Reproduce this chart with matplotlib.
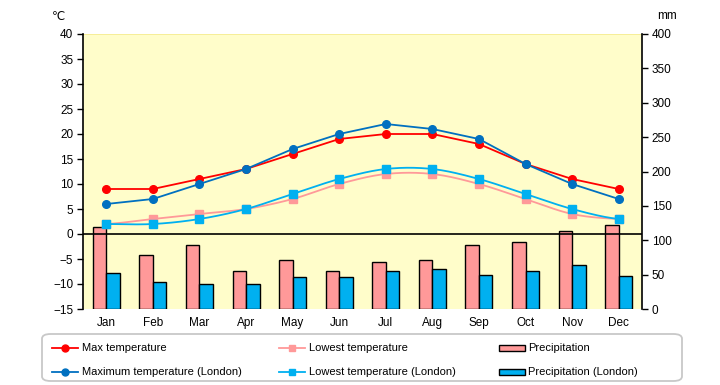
import numpy as np
import matplotlib
matplotlib.use("Agg")
import matplotlib.pyplot as plt
from matplotlib.lines import Line2D
from matplotlib.patches import Rectangle, FancyBboxPatch

plt.rcParams['font.family'] = ['Liberation Sans', 'DejaVu Sans']

months = ["Jan", "Feb", "Mar", "Apr", "May", "Jun", "Jul", "Aug", "Sep", "Oct", "Nov", "Dec"]
max_temp = [9, 9, 11, 13, 16, 19, 20, 20, 18, 14, 11, 9]
low_temp = [2, 3, 4, 5, 7, 10, 12, 12, 10, 7, 4, 3]
max_temp_london = [6, 7, 10, 13, 17, 20, 22, 21, 19, 14, 10, 7]
low_temp_london = [2, 2, 3, 5, 8, 11, 13, 13, 11, 8, 5, 3]
precip = [119, 78, 93, 56, 71, 56, 69, 71, 93, 98, 114, 122]
precip_london = [52, 39, 36, 37, 46, 46, 55, 58, 49, 56, 64, 48]

C_MAX = "#FF0000"
C_LOW = "#FF9999"
C_MAXL = "#0070C0"
C_LOWL = "#00B0F0"
C_BAR1 = "#FF9999"
C_BAR2 = "#00B0F0"


def catmull_rom(y, n=20):
    y = np.asarray(y, float)
    x = np.arange(len(y), dtype=float)
    xs, ys = [], []
    for i in range(len(y) - 1):
        p0 = y[i - 1] if i > 0 else y[i]
        p1, p2 = y[i], y[i + 1]
        p3 = y[i + 2] if i + 2 < len(y) else y[i + 1]
        t = np.linspace(0, 1, n, endpoint=False)
        yy = 0.5 * ((2 * p1) + (-p0 + p2) * t + (2 * p0 - 5 * p1 + 4 * p2 - p3) * t ** 2
                    + (-p0 + 3 * p1 - 3 * p2 + p3) * t ** 3)
        xs.append(x[i] + t)
        ys.append(yy)
    xs.append([x[-1]])
    ys.append([y[-1]])
    return np.concatenate(xs), np.concatenate(ys)


fig = plt.figure(figsize=(7.2, 3.85), dpi=100)
ax = fig.add_axes([83 / 720, 1 - 309 / 385, (642 - 83) / 720, 275 / 385])
ax2 = ax.twinx()

x = np.arange(len(months))

# bars on the secondary axis, placed behind the primary axes
ax2.set_zorder(0)
ax.set_zorder(1)
ax.patch.set_visible(False)
ax2.patch.set_visible(True)
ax2.patch.set_facecolor("#FFFDCA")

w = 0.29
ax2.bar(x - w / 2, precip, width=w, color=C_BAR1, edgecolor="black", linewidth=1.0, zorder=2)
ax2.bar(x + w / 2, precip_london, width=w, color=C_BAR2, edgecolor="black", linewidth=1.0, zorder=2)
ax2.set_ylim(0, 400)
ax2.set_yticks(np.arange(0, 401, 50))

ax.axhline(0, color="black", linewidth=1.2, zorder=1)

# lines
ax.plot(x, max_temp, color=C_MAX, linewidth=1.3, marker="o", markersize=5.5, zorder=4)
ax.plot(x, max_temp_london, color=C_MAXL, linewidth=1.3, marker="o", markersize=5.5, zorder=5)
sx, sy = catmull_rom(low_temp)
ax.plot(sx, sy, color=C_LOW, linewidth=1.3, zorder=3)
ax.plot(x, low_temp, linestyle="none", color=C_LOW, marker="s", markersize=5.5, zorder=3)
sx, sy = catmull_rom(low_temp_london)
ax.plot(sx, sy, color=C_LOWL, linewidth=1.3, zorder=3)
ax.plot(x, low_temp_london, linestyle="none", color=C_LOWL, marker="s", markersize=5.5, zorder=3)

ax.set_xlim(-0.5, 11.5)
ax.set_ylim(-15, 40)
ax.set_yticks(np.arange(-15, 41, 5))
ax.set_xticks(x)
ax.set_xticklabels(months)

for a in (ax, ax2):
    a.spines["top"].set_visible(False)
    a.spines["bottom"].set_visible(False)
    a.tick_params(axis="both", labelsize=8.5, length=4, width=1, color="black", pad=3)
ax.tick_params(axis="x", length=0, pad=6)
ax2.spines["left"].set_visible(False)
ax.spines["right"].set_visible(False)
ax.spines["left"].set_linewidth(1.2)
ax2.spines["right"].set_linewidth(1.2)
ax.spines["left"].set_zorder(10)

# faint top border of plot area
ax2.axhline(400, color="#F5EC90", linewidth=1.2, zorder=1)

fig.text(58 / 720, 1 - 16 / 385, "℃", fontsize=8.5, ha="center", va="center",
         family=["DejaVu Sans"])
fig.text(667 / 720, 1 - 16 / 385, "mm", fontsize=8.5, ha="center", va="center")

# legend box
box = FancyBboxPatch((42 / 720, 1 - 381 / 385), (682 - 42) / 720, (381 - 334) / 385,
                     boxstyle="round,pad=0,rounding_size=0.012", transform=fig.transFigure,
                     facecolor="white", edgecolor="#C8C8C8", linewidth=1.3)
fig.patches.append(box)

entries = [
    (52, 348, "line", C_MAX, "o", "Max temperature"),
    (52, 372, "line", C_MAXL, "o", "Maximum temperature (London)"),
    (279, 348, "line", C_LOW, "s", "Lowest temperature"),
    (279, 372, "line", C_LOWL, "s", "Lowest temperature (London)"),
    (499, 348, "bar", C_BAR1, None, "Precipitation"),
    (499, 372, "bar", C_BAR2, None, "Precipitation (London)"),
]
for (px, py, kind, col, mk, label) in entries:
    yf = 1 - py / 385
    if kind == "line":
        fig.lines.append(Line2D([px / 720, (px + 26) / 720], [yf, yf], transform=fig.transFigure,
                                color=col, linewidth=1.3))
        fig.lines.append(Line2D([(px + 13) / 720], [yf], transform=fig.transFigure,
                                color=col, marker=mk, markersize=5))
        tx = px + 30
    else:
        fig.patches.append(Rectangle((px / 720, yf - 3 / 385), 26 / 720, 6 / 385,
                                     transform=fig.transFigure, facecolor=col,
                                     edgecolor="black", linewidth=1.0))
        tx = px + 29
    fig.text(tx / 720, yf, label, fontsize=8, ha="left", va="center")

fig.savefig("out.png", dpi=100)
